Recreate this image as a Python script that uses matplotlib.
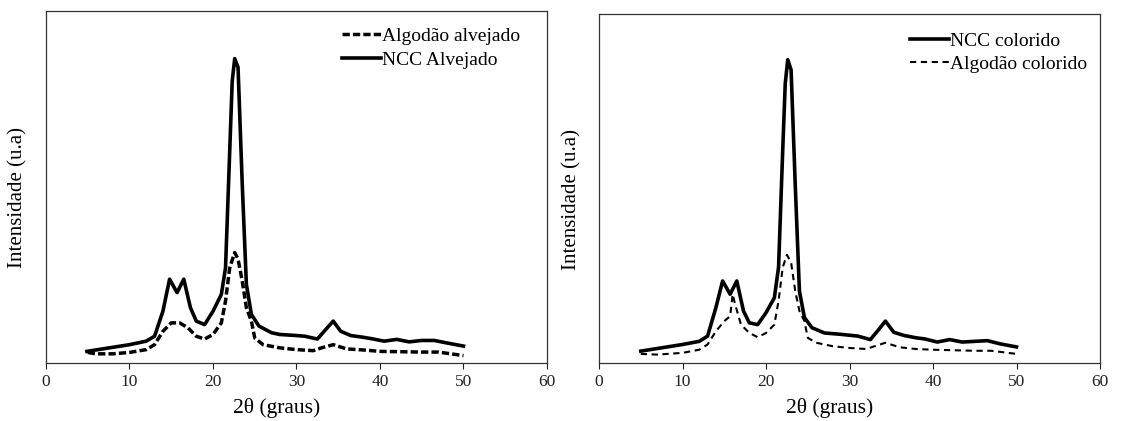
import matplotlib.pyplot as plt

plt.rcParams['font.family'] = ['Liberation Serif', 'DejaVu Serif']

# left panel: bleached
theta_ncc_alv = [4.9, 10, 12, 13, 14, 14.8, 15.7, 16.5, 17.3, 18, 19, 20, 21, 21.5, 22, 22.3, 22.6,
                 23, 23.5, 24, 24.6, 25.5, 27, 28, 30, 31, 32.5, 33.5, 34.4, 35.3, 36.5, 38, 39,
                 40.5, 42, 43.5, 45, 46.5, 48, 50]
ncc_alv = [3.3, 5.2, 6.2, 7.6, 14.7, 23.8, 20.0, 23.8, 15.7, 11.9, 10.9, 14.7, 19.5, 27, 60, 80, 86.5,
           84, 51, 22.3, 13.8, 10.5, 8.6, 8.1, 7.8, 7.6, 6.8, 9.5, 11.9, 9.0, 7.8, 7.3, 6.9,
           6.2, 6.7, 6.0, 6.4, 6.4, 5.7, 4.8]

theta_alg_alv = [5, 6, 8, 10, 12, 13, 14, 15, 16, 17, 18, 19, 20, 21, 21.5, 22, 22.6, 23, 23.5, 24,
                 24.6, 25, 26, 28, 30, 32, 33, 34.4, 36, 38, 40, 45, 47, 50]
alg_alv = [3.0, 2.6, 2.6, 3.0, 3.8, 5.2, 9.0, 11.4, 11.4, 10.0, 7.6, 6.8, 8.1, 11.4, 17.6, 27, 31.4,
           29.5, 23.3, 15.7, 11.9, 7.1, 5.2, 4.3, 3.8, 3.5, 4.3, 5.2, 4.0, 3.7, 3.3, 3.1, 3.1, 2.1]

# right panel: coloured
theta_ncc_col = [5, 10, 12, 13, 14, 14.8, 15.7, 16.5, 17.3, 18, 19, 20, 21, 21.5, 22, 22.3, 22.6,
                 23, 23.5, 24, 24.6, 25.5, 27, 29, 31, 32.5, 33.5, 34.3, 35.3, 36.5, 38, 39,
                 40.5, 42, 43.5, 45, 46.5, 48, 50]
ncc_col = [3.4, 5.3, 6.2, 7.7, 15.9, 23.5, 19.7, 23.5, 14.9, 11.5, 11.0, 14.4, 18.7, 27.4, 61, 80, 86.9,
           84, 51, 20.6, 13.0, 10.1, 8.6, 8.2, 7.7, 6.7, 9.6, 12.0, 8.8, 7.9, 7.2, 6.9,
           6.0, 6.7, 6.0, 6.2, 6.4, 5.5, 4.6]

theta_alg_col = [5, 7, 10, 12, 13, 14, 15, 15.7, 16, 16.3, 17, 18, 19, 20, 21, 21.5, 22, 22.5, 23,
                 23.5, 24, 24.6, 25, 26, 28, 30, 32, 33, 34.3, 36, 38, 40, 45, 47, 50]
alg_col = [2.6, 2.4, 2.9, 3.8, 5.3, 9.1, 12.0, 13.4, 19.7, 16.8, 11.0, 8.6, 7.4, 8.6, 11.0, 17.8, 27.4,
           31, 28.8, 20.6, 14.9, 12.0, 7.2, 5.8, 4.8, 4.3, 4.0, 4.8, 5.8, 4.5, 4.0, 3.8, 3.5, 3.5, 2.6]

xticks = [0, 10, 20, 30, 40, 50, 60]

fig = plt.figure(figsize=(11.22, 4.21), dpi=100)
ax1 = fig.add_axes([0.041, 0.1378, 0.4465, 0.836])
ax2 = fig.add_axes([0.5339, 0.1378, 0.4465, 0.829])

ax1.plot(theta_alg_alv, alg_alv, color='black', lw=2.5, ls=(0, (2.1, 0.9)), label='Algodão alvejado')
ax1.plot(theta_ncc_alv, ncc_alv, color='black', lw=2.6, label='NCC Alvejado')

ax2.plot(theta_ncc_col, ncc_col, color='black', lw=2.6, label='NCC colorido')
ax2.plot(theta_alg_col, alg_col, color='black', lw=1.5, ls=(0, (3, 2.2)), label='Algodão colorido')

for ax, lx, ly in ((ax1, 0.575, 0.975), (ax2, 0.605, 0.97)):
    ax.set_xlim(0, 60)
    ax.set_ylim(0, 100)
    ax.set_xticks(xticks)
    ax.set_yticks([])
    ax.tick_params(axis='x', direction='out', length=4, width=0.8, labelsize=12.5, pad=4,
                   colors='#222222')
    for s in ax.spines.values():
        s.set_linewidth(0.9)
        s.set_color('#333333')
    ax.set_xlabel('2θ (graus)', fontsize=15.5)
    ax.xaxis.set_label_coords(0.461, -0.099)
    ax.set_ylabel('Intensidade (u.a)', fontsize=15)
    ax.yaxis.set_label_coords(-0.036, 0.469)
    ax.legend(loc='upper left', bbox_to_anchor=(lx, ly),
              frameon=False, fontsize=14, handlelength=2.0, handletextpad=0.05,
              labelspacing=0.3, borderaxespad=0)

fig.savefig('out.png', dpi=100)
